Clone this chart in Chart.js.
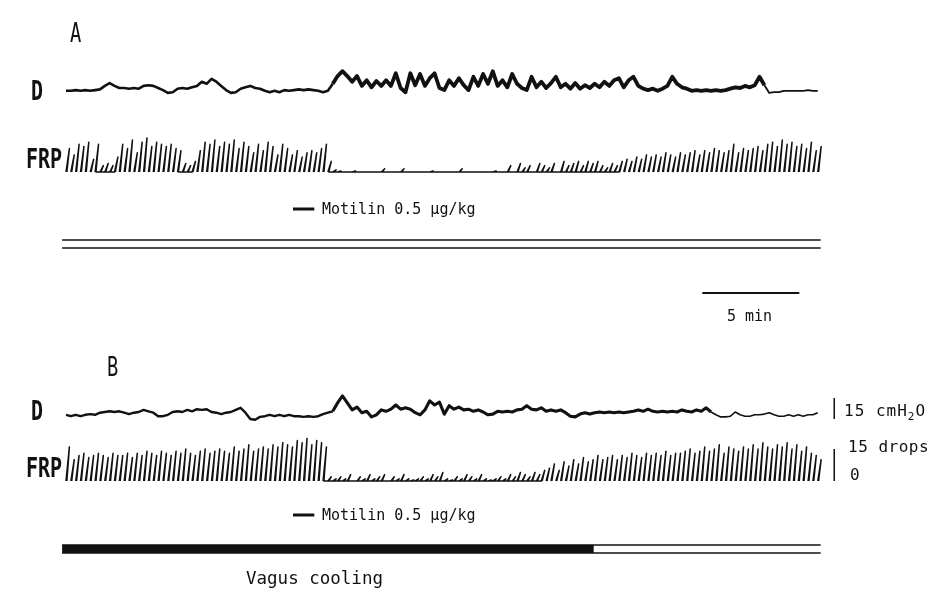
<!DOCTYPE html>
<html>
<head>
<meta charset="utf-8">
<script src="https://cdn.jsdelivr.net/npm/chart.js@4.4.1/dist/chart.umd.min.js"></script>
<style>
  html, body { margin: 0; padding: 0; background: #fff; }
  #wrap { position: relative; width: 934px; height: 614px; overflow: hidden; }
  canvas { position: absolute; left: 0; top: 0; }
  .lbl { position: absolute; font-family: "DejaVu Sans Mono", monospace; color: #111; white-space: nowrap; line-height: 1; }
  .big { font-size: 26px; transform-origin: left center; transform: scaleX(0.72); }
  .row { font-weight: bold; transform: scaleX(0.77); }
  .small { font-size: 15px; }
  .small sub { font-size: 11px; vertical-align: -4px; }
</style>
</head>
<body>
<div id="wrap">
  <canvas id="trace" width="934" height="614"></canvas>
  <div class="lbl big" style="left:70px; top:20px;">A</div>
  <div class="lbl big row" style="left:31px; top:78px;">D</div>
  <div class="lbl big row" style="left:26px; top:146px;">FRP</div>
  <div class="lbl small" style="left:322px; top:202px;">Motilin 0.5 µg/kg</div>
  <div class="lbl small" style="left:727px; top:309px;">5 min</div>
  <div class="lbl big" style="left:107px; top:354px;">B</div>
  <div class="lbl big row" style="left:31px; top:398px;">D</div>
  <div class="lbl big row" style="left:26px; top:455px;">FRP</div>
  <div class="lbl small" style="left:844px; top:403px; font-size:16px; letter-spacing:1px;">15 cmH<sub>2</sub>O</div>
  <div class="lbl small" style="left:848px; top:439px; font-size:16px; letter-spacing:0.5px;">15 drops</div>
  <div class="lbl small" style="left:850px; top:467px; font-size:16px;">0</div>
  <div class="lbl small" style="left:322px; top:508px;">Motilin 0.5 µg/kg</div>
  <div class="lbl small" style="left:246px; top:570px; font-size:17.5px;">Vagus cooling</div>
</div>
<script>
// time runs in minutes, one sample every SLOT minutes
const SLOT = 0.25;

// D: duodenal pressure, cmH2O above resting level
const dA = [
  3, 3, 3.5, 3, 3.5, 3, 3.5, 4, 6.5, 8.5,
  6.5, 5, 5, 4.5, 5, 4.5, 6.5, 7, 6.5, 5,
  3.5, 1.5, 2, 4.5, 5, 4.5, 5.5, 6.5, 9.5, 8,
  11.5, 9.5, 6.5, 3.5, 1.5, 2, 4.5, 5.5, 6.5, 5,
  4.5, 3, 2, 3, 2, 3.5, 3, 3.5, 4, 3.5,
  4, 3.5, 3, 2, 3, 8, 13.5, 17, 13.5, 9.5,
  13.5, 6.5, 10.5, 5.5, 10, 6.5, 10.5, 6.5, 15.5, 5,
  2, 15.5, 7, 15, 6.5, 12, 15.5, 5, 3.5, 10.5,
  6.5, 12, 7, 3.5, 13, 6.5, 15, 8, 17, 6.5,
  10.5, 5.5, 15, 8, 5, 3.5, 13, 5.5, 9.5, 5,
  8.5, 13, 5.5, 8, 4.5, 8.5, 4.5, 7, 5, 8,
  5.5, 9.5, 6.5, 10.5, 12, 5.5, 10.5, 13, 6.5, 4.5,
  3.5, 4.5, 3, 4.5, 6.5, 13, 8, 5.5, 4.5, 3,
  3.5, 3, 3.5, 3, 3.5, 3, 3.5, 4.5, 5.5, 5,
  6.5, 5.5, 7, 13, 7, 1.5, 2, 2, 3, 3,
  3, 3, 3, 3.5, 3, 3
];
const dB = [
  3, 2, 3, 2, 3, 3.5, 3, 4.5, 5, 5.5,
  5, 5.5, 4.5, 3.5, 4.5, 5, 6.5, 5.5, 4.5, 2,
  2, 3, 5, 5.5, 5, 6.5, 5.5, 7, 6.5, 7,
  5, 4.5, 3.5, 4.5, 5, 6.5, 8, 4.5, 0, -0.5,
  1.5, 2, 3, 2, 3, 2, 3, 2, 2, 1.5,
  2, 1.5, 2, 3.5, 4.5, 5.5, 11.5, 16.5, 11.5, 6.5,
  8.5, 4.5, 5.5, 1.5, 3, 6.5, 5.5, 7, 10, 7,
  8, 7, 4.5, 3, 6.5, 13, 10, 12, 3.5, 9.5,
  7, 8.5, 6.5, 7, 5.5, 6.5, 5, 3, 3.5, 5.5,
  5, 5.5, 5, 6.5, 7, 9.5, 7, 6.5, 8, 5.5,
  6.5, 5.5, 6.5, 4.5, 2, 1.5, 3.5, 4.5, 3.5, 4.5,
  5, 4.5, 5, 4.5, 5, 4.5, 5, 5.5, 6.5, 5.5,
  7, 5.5, 5, 5.5, 5, 5.5, 5, 6.5, 5.5, 5,
  6.5, 5.5, 8, 5, 3, 1.5, 1.5, 2, 5, 3,
  2, 2, 3, 3, 3.5, 4.5, 3, 2, 2, 3,
  2, 3, 2, 3, 3, 4.5
];

// FRP: drops counted in each slot (pen resets after each count)
const frpA = [
  11, 8, 13, 12, 14, 6, 13, 3, 4, 3,
  7, 13, 11, 15, 9, 14, 16, 12, 14, 13,
  12, 13, 11, 10, 4, 3, 5, 10, 14, 13,
  15, 12, 14, 13, 15, 11, 14, 12, 9, 13,
  10, 14, 12, 8, 13, 11, 8, 10, 7, 9,
  10, 9, 11, 13, 5, 1, 0.5, 0, 0, 0.5,
  0, 0, 0, 0, 0, 1.5, 0, 0, 0, 1.5,
  0, 0, 0, 0, 0, 0.5, 0, 0, 0, 0,
  0, 1.5, 0, 0, 0, 0, 0, 0, 0.5, 0,
  0, 3, 0, 4, 2, 3, 0, 4, 3, 2,
  4, 0, 5, 3, 4, 5, 3, 5, 4, 5,
  3, 2, 4, 3, 5, 6, 5, 7, 6, 8,
  7, 8, 7, 9, 8, 7, 9, 8, 9, 10,
  8, 10, 9, 11, 10, 9, 10, 13, 9, 11,
  10, 11, 12, 10, 13, 14, 12, 15, 13, 14,
  12, 13, 11, 14, 10, 12
];
const frpB = [
  16, 10, 12, 13, 11, 12, 13, 12, 11, 13,
  12, 12, 13, 11, 13, 12, 14, 13, 12, 14,
  13, 12, 14, 13, 15, 13, 12, 14, 15, 13,
  14, 15, 14, 13, 16, 14, 15, 17, 14, 15,
  16, 15, 17, 16, 18, 17, 16, 19, 18, 20,
  17, 19, 18, 16, 2, 1, 2, 1, 3, 0,
  2, 1, 3, 1, 2, 3, 0, 2, 1, 3,
  1, 0.5, 1, 2, 1, 3, 2, 4, 1, 0.5,
  2, 1, 3, 2, 1, 3, 1, 0.5, 1, 2,
  1, 3, 2, 4, 3, 2, 4, 3, 5, 6,
  8, 5, 9, 7, 10, 8, 11, 9, 10, 12,
  10, 11, 12, 10, 12, 11, 13, 12, 11, 13,
  12, 13, 12, 14, 12, 13, 13, 14, 15, 13,
  14, 16, 14, 15, 17, 13, 16, 15, 14, 16,
  15, 17, 15, 18, 16, 15, 17, 16, 18, 15,
  17, 14, 16, 13, 12, 10
];

// event marks, minutes from start of record
const recordSpan = [-0.2, 38.9];
const motilinSpan = [11.7, 12.8];
const coolingSpan = [-0.2, 27.2];
const timeBar = [32.8, 37.8];
const pressureBar = [0, 15];
const dropsBar = [0, 15];

// page geometry
const W = 934, H = 614;
const PX_PER_MIN = 97 / 5;
const START_PX = 66;
const INK = '#111';

function band(zeroPx, pxPerUnit) {
  return { min: (zeroPx - H) / pxPerUnit, max: zeroPx / pxPerUnit };
}

const trace = (arr, from, to) =>
  arr.slice(from, to + 1).map((v, k) => ({ x: (from + k) * SLOT, y: v }));

// each count: pen slants up, drops straight back
const strokes = arr => arr.flatMap((h, i) => {
  const t = i * SLOT;
  if (h <= 0) return [{ x: t, y: 0 }];
  return [{ x: t, y: 0 }, { x: t + 0.7 * SLOT, y: h }, { x: t + 0.18 * SLOT, y: 0 }];
});

const hline = (span, yPx) => span.map(t => ({ x: t, y: yPx }));
const vbar = (span, t) => span.map(v => ({ x: t, y: v }));

function line(data, yAxisID, width) {
  return {
    type: 'line', data, yAxisID,
    borderColor: INK, borderWidth: width,
    pointRadius: 0, tension: 0, fill: false,
    borderJoinStyle: 'round', borderCapStyle: 'butt'
  };
}

// baseline between tall counts is not visible on the record
function strokeLine(arr, yAxisID) {
  const ds = line(strokes(arr), yAxisID, 1.5);
  ds.segment = {
    borderColor: ctx => {
      if (ctx.p0.parsed.y !== 0 || ctx.p1.parsed.y !== 0) return undefined;
      const i = Math.floor(ctx.p0.parsed.x / SLOT + 1e-6);
      return arr[i] >= 5 && arr[i + 1] >= 5 ? 'rgba(0,0,0,0)' : undefined;
    }
  };
  return ds;
}

const datasets = [
  line(trace(dA, 0, 55), 'dA', 2.6),
  line(trace(dA, 55, 144), 'dA', 3.8),
  line(trace(dA, 144, 155), 'dA', 1.8),
  strokeLine(frpA, 'fA'),
  line(hline(motilinSpan, 209), 'page', 3),
  line(hline(recordSpan, 240), 'page', 1.5),
  line(hline(recordSpan, 248), 'page', 1.5),
  line(hline(timeBar, 293), 'page', 2),

  line(trace(dB, 0, 55), 'dB', 2.4),
  line(trace(dB, 55, 133), 'dB', 3.1),
  line(trace(dB, 133, 155), 'dB', 1.6),
  strokeLine(frpB, 'fB'),
  line(vbar(pressureBar, 39.6), 'dB', 1.5),
  line(vbar(dropsBar, 39.6), 'fB', 1.5),
  line(hline(motilinSpan, 515), 'page', 3),
  line(hline(recordSpan, 545), 'page', 1.5),
  line(hline(recordSpan, 553), 'page', 1.5),
  line(hline(coolingSpan, 549), 'page', 8)
];

const hidden = extra => Object.assign({ type: 'linear', display: false }, extra);

new Chart(document.getElementById('trace'), {
  type: 'line',
  data: { datasets },
  options: {
    responsive: false,
    animation: false,
    events: [],
    layout: { padding: 0 },
    plugins: { legend: { display: false }, tooltip: { enabled: false } },
    scales: {
      x: hidden({ min: -START_PX / PX_PER_MIN, max: (W - START_PX) / PX_PER_MIN }),
      dA: hidden(band(95, 1.4)),
      dB: hidden(band(419, 1.4)),
      fA: hidden(band(172, 2.13)),
      fB: hidden(band(481, 2.13)),
      page: hidden({ min: 0, max: H, reverse: true })
    }
  }
});
</script>
</body>
</html>
